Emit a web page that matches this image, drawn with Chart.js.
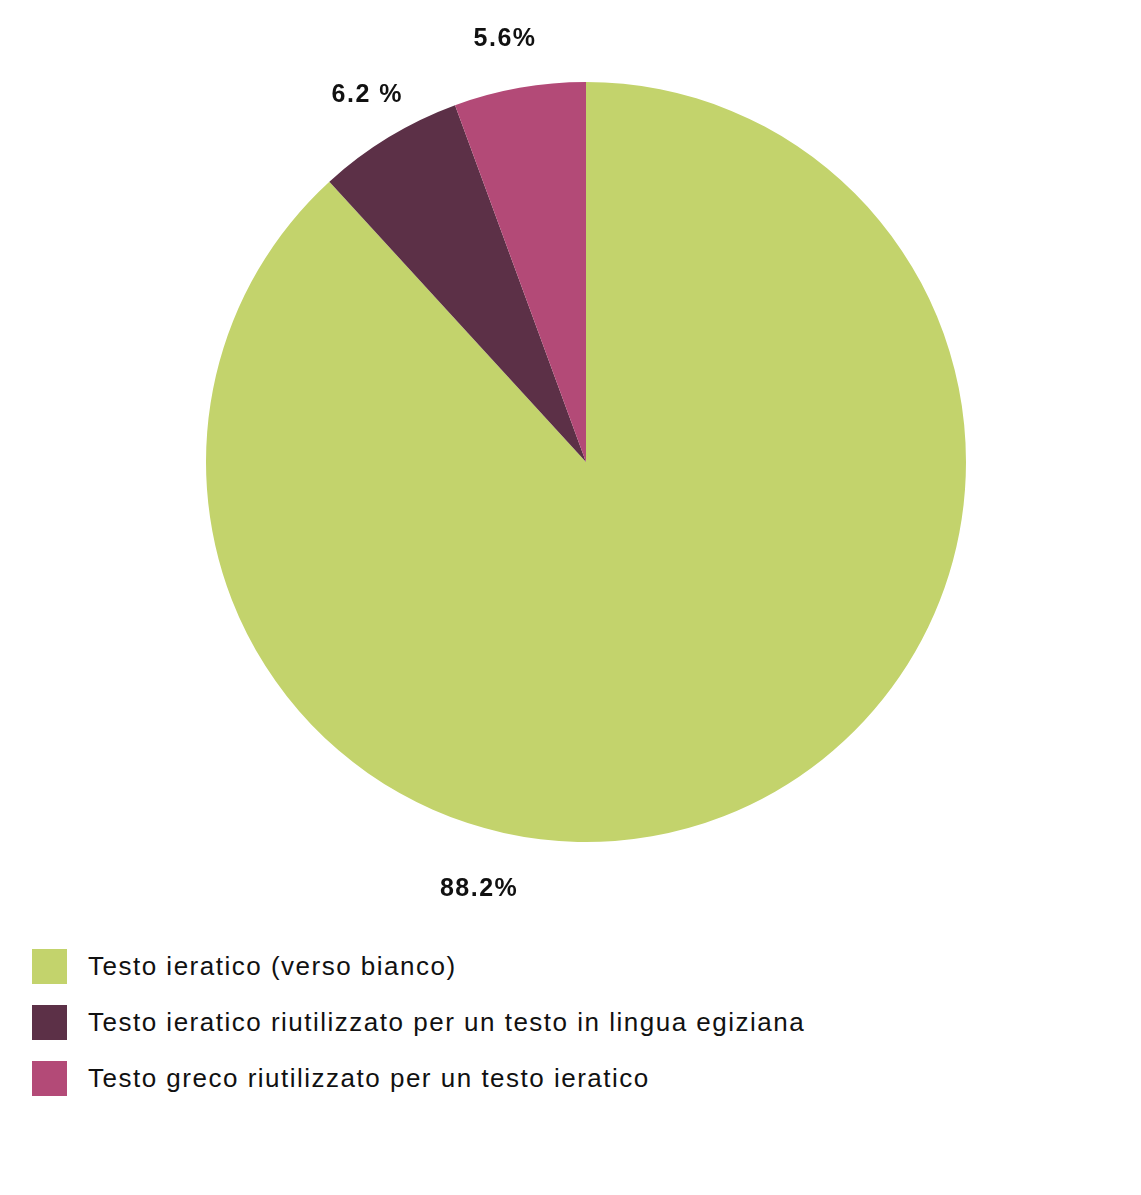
<!DOCTYPE html>
<html>
<head>
<meta charset="utf-8">
<script src="https://cdn.jsdelivr.net/npm/chart.js@4/dist/chart.umd.min.js"></script>
<style>
  html, body { margin: 0; padding: 0; background: #fff; }
  body { width: 1141px; height: 1195px; position: relative; overflow: hidden; }
  #wrap { position: absolute; left: 0; top: 0; width: 1141px; height: 924px; }
  #legend { position: absolute; left: 32px; top: 949px; font-family: "Liberation Sans", Arial, sans-serif; font-size: 26px; letter-spacing: 1.5px; color: #111; }
  .item { display: flex; align-items: center; height: 35px; margin-bottom: 21px; }
  .sw { width: 35px; height: 35px; margin-right: 21px; flex: none; }
</style>
</head>
<body>
<div id="wrap"><canvas id="c"></canvas></div>
<div id="legend"></div>
<script>
const categories = [
  "Testo ieratico (verso bianco)",
  "Testo ieratico riutilizzato per un testo in lingua egiziana",
  "Testo greco riutilizzato per un testo ieratico"
];
const values = [88.2, 6.2, 5.6];
const valueLabels = ["88.2%", "6.2 %", "5.6%"];
const colors = ["#c3d36c", "#5c3047", "#b34a77"];

// legend
const lg = document.getElementById('legend');
categories.forEach((c, i) => {
  const d = document.createElement('div'); d.className = 'item';
  const s = document.createElement('div'); s.className = 'sw'; s.style.background = colors[i];
  const t = document.createElement('span'); t.textContent = c;
  d.appendChild(s); d.appendChild(t); lg.appendChild(d);
});

const outerLabels = {
  id: 'outerLabels',
  afterDatasetsDraw(chart, args, opts) {
    const ctx = chart.ctx;
    const meta = chart.getDatasetMeta(0);
    ctx.save();
    ctx.font = 'bold 25px "Liberation Sans", Arial, sans-serif';
    try { ctx.letterSpacing = '1.5px'; } catch (e) {}
    ctx.fillStyle = '#111';
    ctx.textAlign = 'center';
    ctx.textBaseline = 'middle';
    meta.data.forEach((arc, i) => {
      const p = arc.getProps(['x','y','startAngle','endAngle','outerRadius'], true);
      let a = (p.startAngle + p.endAngle) / 2 + (opts.angleShift[i] || 0);
      const r = p.outerRadius + opts.offset[i];
      ctx.fillText(valueLabels[i], p.x + Math.cos(a) * r, p.y + Math.sin(a) * r);
    });
    ctx.restore();
  }
};

new Chart(document.getElementById('c'), {
  type: 'pie',
  data: {
    labels: categories,
    datasets: [{ data: values, backgroundColor: colors, borderWidth: 0 }]
  },
  options: {
    responsive: true,
    maintainAspectRatio: false,
    animation: false,
    layout: { padding: { left: 206, right: 175, top: 82, bottom: 82 } },
    plugins: {
      legend: { display: false },
      tooltip: { enabled: false },
      outerLabels: { offset: [60, 47, 51], angleShift: [0.616, 0.009, -0.013] }
    }
  },
  plugins: [outerLabels]
});
</script>
</body>
</html>
